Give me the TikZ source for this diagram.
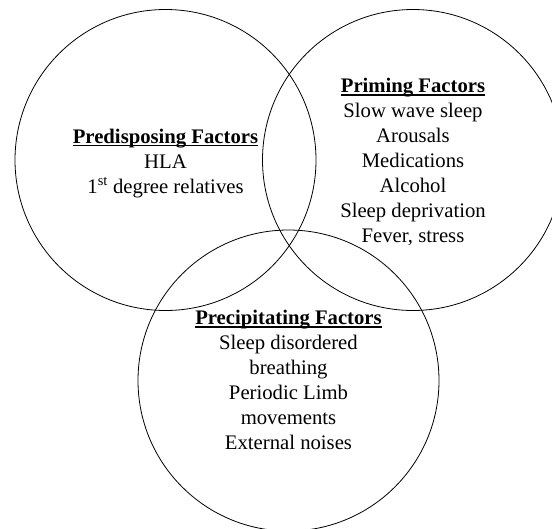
\documentclass[tikz,border=0pt]{standalone}
\usepackage{fontspec}
\setmainfont{Liberation Serif}
\newcommand\thickul[1]{\setbox0\hbox{#1}\leavevmode\rlap{\rule[-3.2pt]{\wd0}{1.3pt}}\box0}
\begin{document}
\begin{tikzpicture}[x=1pt,y=-1pt,
  venn/.style={draw=black,line width=0.8pt},
  blk/.style={align=center,inner sep=0pt,anchor=north,
    font=\fontsize{20.7pt}{25pt}\selectfont}]
\useasboundingbox (0,0) rectangle (552,528);
\draw[venn] (165.5,160) circle (150.5);
\draw[venn] (413,160) circle (150.5);
\draw[venn] (288.5,380.5) circle (150.5);
\node[blk] (pred) at (165.5,128.5) {\thickul{\textbf{Predisposing Factors}}\\HLA\\1\textsuperscript{st} degree relatives};
\node[blk] (prim) at (413,78) {\thickul{\textbf{Priming Factors}}\\Slow wave sleep\\Arousals\\Medications\\Alcohol\\Sleep deprivation\\Fever, stress};
\node[blk] (prec) at (288.5,310) {\thickul{\textbf{Precipitating Factors}}\\Sleep disordered\\breathing\\Periodic Limb\\movements\\External noises};
\end{tikzpicture}
\end{document}
